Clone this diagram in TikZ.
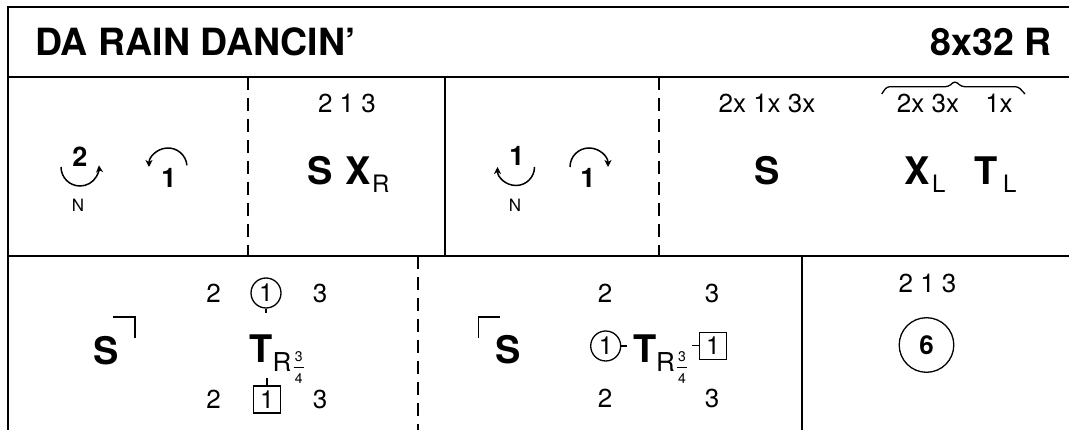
\documentclass[tikz,border=0pt]{standalone}
\usepackage{fontspec}
\setmainfont{TeX Gyre Heros}
\usetikzlibrary{arrows.meta}
\newcommand\fsz[1]{\fontsize{#1}{#1}\selectfont}
\begin{document}
\begin{tikzpicture}[x=1pt,y=-1pt,
 frameline/.style={line width=2pt},
 innerline/.style={line width=1.7pt},
 dashline/.style={line width=1.6pt, dash pattern=on 13pt off 8pt},
 txt/.style={inner sep=0pt, anchor=base},
 titletxt/.style={txt, font=\fsz{37.5}\bfseries},
 bigtxt/.style={txt, font=\fsz{38}\bfseries},
 numtxt/.style={txt, font=\fsz{26}},
 subtxt/.style={txt, anchor=base west, font=\fsz{24}},
 labtxt/.style={txt, font=\fsz{17}},
 rottxt/.style={txt, font=\fsz{27}\bfseries},
 fractxt/.style={inner sep=0pt, font=\fsz{14}},
 rotarrow/.style={line width=1.5pt, -{Stealth[length=7pt,width=7pt,inset=2pt]}},
 ringnode/.style={circle, draw, line width=1.3pt, inner sep=0pt, minimum size=30pt, font=\fsz{25}},
 boxnode/.style={rectangle, draw, line width=1.3pt, inner sep=0pt, minimum size=27pt, font=\fsz{25}},
 fineline/.style={line width=1.3pt}]
\useasboundingbox (0,0) rectangle (1069,430);
% grid
\draw[frameline] (8,435) -- (8,7) -- (1075,7);
\draw[frameline] (8,77) -- (1075,77);
\draw[frameline] (8,256) -- (1075,256);
\draw[innerline] (445,77) -- (445,256);
\draw[innerline] (802,256) -- (802,435);
\draw[dashline] (248,77) -- (248,256);
\draw[dashline] (659,77) -- (659,256);
\draw[dashline] (418,256) -- (418,435);
% title row
\node[titletxt, anchor=base west] (title) at (35,56) {DA RAIN DANCIN’};
\node[titletxt, anchor=base east] (form) at (1052,56) {8x32 R};
% row 1 cell 1
\node[rottxt] (a2) at (80,167) {2};
\draw[rotarrow] (80,167) ++(180:19) arc[start angle=180, end angle=-5, radius=19];
\node[labtxt] (aN) at (78,212) {N};
\draw[rotarrow] (168,167) ++(-5:19) arc[start angle=-5, end angle=-180, radius=19];
\node[rottxt] (b1) at (169,188) {1};
% row 1 cell 2
\node[numtxt] (c2n) at (347,113) {2 1 3};
\node[bigtxt] (c2S) at (320,185) {S};
\node[bigtxt] (c2X) at (358,185) {X};
\node[subtxt] (c2R) at (372,193) {R};
% row 1 cell 3
\node[rottxt] (c1) at (517,166) {1};
\draw[rotarrow] (516,167) ++(0:18.5) arc[start angle=0, end angle=180, radius=18.5];
\node[labtxt] (cN) at (515,212) {N};
\draw[rotarrow] (589,167) ++(180:19) arc[start angle=180, end angle=360, radius=19];
\node[rottxt] (d1) at (588,188) {1};
% row 1 cell 4
\node[numtxt] (c4n) at (767,113) {2x 1x 3x};
\node[bigtxt] (c4S) at (767,185) {S};
\node[numtxt] (c4n2) at (928,113) {2x 3x};
\node[numtxt] (c4n3) at (999,113) {1x};
\draw[fineline, rounded corners=3pt] (881.7,94) -- (886.7,86.7) -- (948.3,86.7) -- (955,81) -- (961.7,86.7) -- (1018.3,86.7) -- (1025,94);
\node[bigtxt] (c4X) at (917,185) {X};
\node[subtxt] (c4XL) at (932,193) {L};
\node[bigtxt] (c4T) at (986.5,185) {T};
\node[subtxt] (c4TL) at (1003,193) {L};
% row 2 cell A
\node[bigtxt] (aS) at (106,365) {S};
\draw[fineline] (113,317) -- (135,317) -- (135,338);
\node[numtxt] (a2t) at (213.5,303) {2};
\node[numtxt] (a3t) at (320,303) {3};
\node[ringnode] (aring) at (266,293) {1};
\coordinate (aringtick) at (266,313);
\draw[fineline] (aring.south) -- (aringtick);
\node[bigtxt] (aT) at (261,363) {T};
\node[subtxt, font=\fsz{26}] (aR) at (272.5,372) {R};
\node[fractxt] (afn) at (298.7,357) {3};
\draw[line width=0.8pt] (293.5,367.5) -- (304,367.5);
\node[fractxt] (afd) at (298.7,378.5) {4};
\node[boxnode] (abox) at (267,399.5) {1};
\coordinate (aboxtick) at (267,378);
\draw[fineline] (abox.north) -- (aboxtick);
\node[numtxt] (a2b) at (213.5,409) {2};
\node[numtxt] (a3b) at (320,409) {3};
% row 2 cell B
\draw[fineline] (478.3,338) -- (478.3,317) -- (500,317);
\node[bigtxt] (bS) at (508,364) {S};
\node[numtxt] (b2t) at (605,303) {2};
\node[numtxt] (b3t) at (712,303) {3};
\node[ringnode] (bring) at (605.7,346) {1};
\coordinate (bringtick) at (626.7,346);
\draw[fineline] (bring.east) -- (bringtick);
\node[bigtxt] (bT) at (644.7,363) {T};
\node[subtxt, font=\fsz{26}] (bR) at (656,371.5) {R};
\node[fractxt] (bfn) at (682,357) {3};
\draw[line width=0.8pt] (677,367.5) -- (687.3,367.5);
\node[fractxt] (bfd) at (682,378.5) {4};
\node[boxnode] (bbox) at (713,345.7) {1};
\coordinate (bboxtick) at (691.7,345.7);
\draw[fineline] (bbox.west) -- (bboxtick);
\node[numtxt] (b2b) at (605,408) {2};
\node[numtxt] (b3b) at (712,408) {3};
% row 2 cell C
\node[numtxt] (cn) at (927.5,293) {2 1 3};
\node[circle, draw, line width=1.3pt, inner sep=0pt, minimum size=54.6pt, font=\fsz{26}\bfseries] (six) at (926.5,345) {6};
\end{tikzpicture}
\end{document}
